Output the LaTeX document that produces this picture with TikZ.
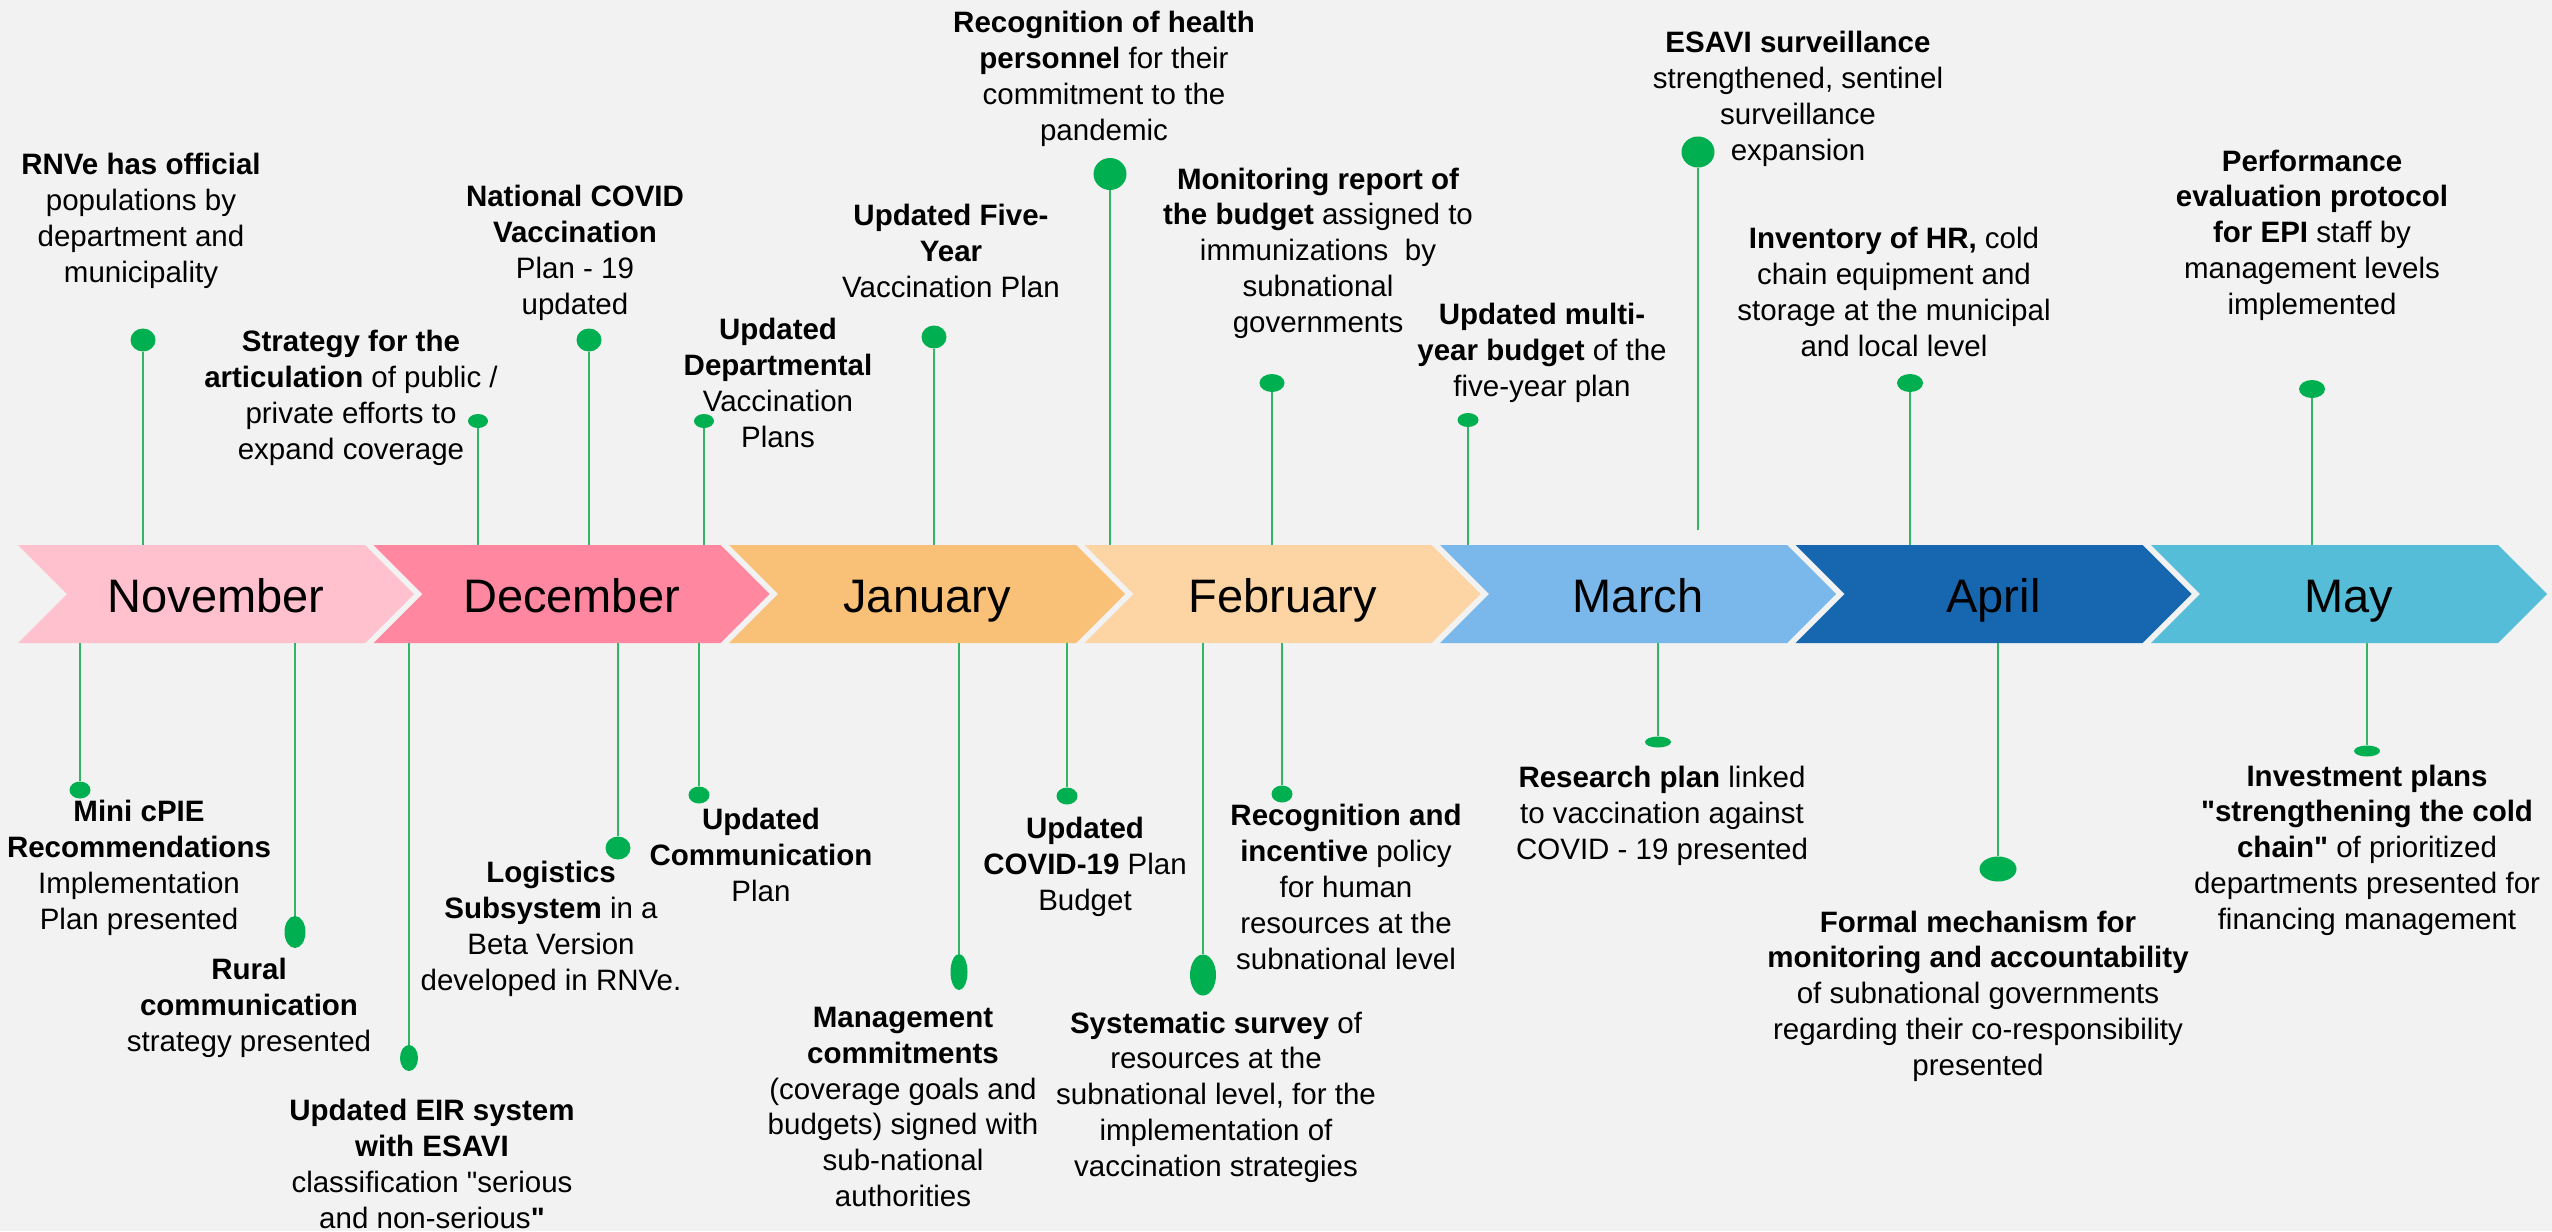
\documentclass[tikz,border=0pt]{standalone}
\usepackage{fontspec}
\newfontfamily\labelfont{Liberation Sans}
\usetikzlibrary{shapes.geometric}

\definecolor{bg}{HTML}{F2F2F2}
\definecolor{dotgreen}{HTML}{00B050}
\definecolor{stemgreen}{HTML}{33B566}
\definecolor{nov}{HTML}{FFC1CE}
\definecolor{dec}{HTML}{FF87A0}
\definecolor{jan}{HTML}{F9C077}
\definecolor{feb}{HTML}{FDD5A4}
\definecolor{mar}{HTML}{7AB8EC}
\definecolor{apr}{HTML}{1767B0}
\definecolor{may}{HTML}{56BDD9}

\begin{document}
\begin{tikzpicture}[x=0.5pt,y=-0.5pt,
  dot/.style 2 args={ellipse,fill=dotgreen,inner sep=0pt,minimum width=#1*0.5pt,minimum height=#2*0.5pt},
  stem/.style={stemgreen,line width=1pt},
  event/.style={align=center,inner sep=0pt,font=\labelfont\fontsize{14.75}{17.9}\selectfont},
  month/.style={anchor=base,inner sep=0pt,font=\labelfont\fontsize{23.5}{28}\selectfont}]

% background
\fill[bg] (0,0) rectangle (2552,1231);
\useasboundingbox (0,0) rectangle (2552,1231);

% months
\coordinate (top) at (0,545);
\coordinate (bot) at (0,643);
\foreach \m/\c [count=\i from 0] in {November/nov,December/dec,January/jan,February/feb,March/mar,April/apr,May/may}{
  \fill[\c] (18+355.5*\i,545) -- ++(347,0) -- ++(49,49) -- ++(-49,49) -- ++(-347,0) -- ++(49,-49) -- cycle;
  \node[month] (m\i) at (216+355.5*\i,612) {\m};
}

% events above
\node[dot={25}{23}] (d1) at (143,340) {};
\node[dot={20}{14}] (d2) at (478,421) {};
\node[dot={25}{23}] (d3) at (589,340) {};
\node[dot={20}{14}] (d4) at (704,421) {};
\node[dot={25}{23}] (d5) at (934,337) {};
\node[dot={33}{32}] (d6) at (1110,174) {};
\node[dot={25}{18}] (d7) at (1272,383) {};
\node[dot={21}{14}] (d8) at (1468,420) {};
\node[dot={33}{31}] (d9) at (1698,152) {};
\node[dot={26}{18}] (d10) at (1910,383) {};
\node[dot={26}{18}] (d11) at (2312,389) {};
\coordinate (esavi) at (1698,530);

\foreach \d in {d1,d2,d3,d4,d5,d6,d7,d8,d10,d11}
  \draw[stem] (\d) -- (\d |- top);
\draw[stem] (d9) -- (esavi);

\node[event] (t1) at (141,221) {\textbf{RNVe has official}\\populations by\\department and\\municipality};
\node[event] (t2) at (351,398) {\textbf{Strategy for the}\\\textbf{articulation} of public /\\private efforts to\\expand coverage};
\node[event] (t3) at (575,253) {\textbf{National COVID}\\\textbf{Vaccination}\\Plan - 19\\updated};
\node[event] (t4) at (778,383) {\textbf{Updated}\\\textbf{Departmental}\\Vaccination\\Plans};
\node[event] (t5) at (951,251) {\textbf{Updated Five-}\\\textbf{Year}\\Vaccination Plan};
\node[event] (t6) at (1104,79) {\textbf{Recognition of health}\\\textbf{personnel} for their\\commitment to the\\pandemic};
\node[event] (t7) at (1318,253) {\textbf{Monitoring report of}\\\textbf{the budget} assigned to\\immunizations\ \ by\\subnational\\governments};
\node[event] (t8) at (1542,353) {\textbf{Updated multi-}\\\textbf{year budget} of the\\five-year plan};
\node[event] (t9) at (1798,99) {\textbf{ESAVI surveillance}\\strengthened, sentinel\\surveillance\\expansion};
\node[event] (t10) at (1894,292) {\textbf{Inventory of HR,} cold\\chain equipment and\\storage at the municipal\\and local level};
\node[event] (t11) at (2312,235) {\textbf{Performance}\\\textbf{evaluation protocol}\\\textbf{for EPI} staff by\\management levels\\implemented};

% events below
\node[dot={21}{17}] (b1) at (80,790) {};
\node[dot={21}{32}] (b2) at (295,932) {};
\node[dot={18}{26}] (b3) at (409,1058) {};
\node[dot={25}{23}] (b4) at (618,848) {};
\node[dot={21}{17}] (b5) at (699,795) {};
\node[dot={17}{36}] (b6) at (959,972) {};
\node[dot={21}{17}] (b7) at (1067,796) {};
\node[dot={26}{41}] (b8) at (1203,975) {};
\node[dot={21}{17}] (b9) at (1282,794) {};
\node[dot={26}{11}] (b10) at (1658,742) {};
\node[dot={37}{25}] (b11) at (1998,869) {};
\node[dot={26}{11}] (b12) at (2367,751) {};

\foreach \d in {b1,b2,b3,b4,b5,b6,b7,b8,b9,b10,b11,b12}
  \draw[stem] (\d) -- (\d |- bot);

\node[event] (s1) at (139,868) {\textbf{Mini cPIE}\\\textbf{Recommendations}\\Implementation\\Plan presented};
\node[event] (s2) at (249,1008) {\textbf{Rural}\\\textbf{communication}\\strategy presented};
\node[event] (s3) at (432,1164) {\textbf{Updated EIR system}\\\textbf{with ESAVI}\\classification "serious\\and non-serious\textbf{"}};
\node[event] (s4) at (551,929) {\textbf{Logistics}\\\textbf{Subsystem} in a\\Beta Version\\developed in RNVe.};
\node[event] (s5) at (761,855) {\textbf{Updated}\\\textbf{Communication}\\Plan};
\node[event] (s6) at (903,1107) {\textbf{Management}\\\textbf{commitments}\\(coverage goals and\\budgets) signed with\\sub-national\\authorities};
\node[event] (s7) at (1085,867) {\textbf{Updated}\\\textbf{COVID-19} Plan\\Budget};
\node[event] (s8) at (1216,1097) {\textbf{Systematic survey} of\\resources at the\\subnational level, for the\\implementation of\\vaccination strategies};
\node[event] (s9) at (1346,887) {\textbf{Recognition and}\\\textbf{incentive} policy\\for human\\resources at the\\subnational level};
\node[event] (s10) at (1662,816) {\textbf{Research plan} linked\\to vaccination against\\COVID - 19 presented};
\node[event] (s11) at (1978,996) {\textbf{Formal mechanism for}\\\textbf{monitoring and accountability}\\of subnational governments\\regarding their co-responsibility\\presented};
\node[event] (s12) at (2367,850) {\textbf{Investment plans}\\\textbf{"strengthening the cold}\\\textbf{chain"} of prioritized\\departments presented for\\financing management};

\end{tikzpicture}
\end{document}
